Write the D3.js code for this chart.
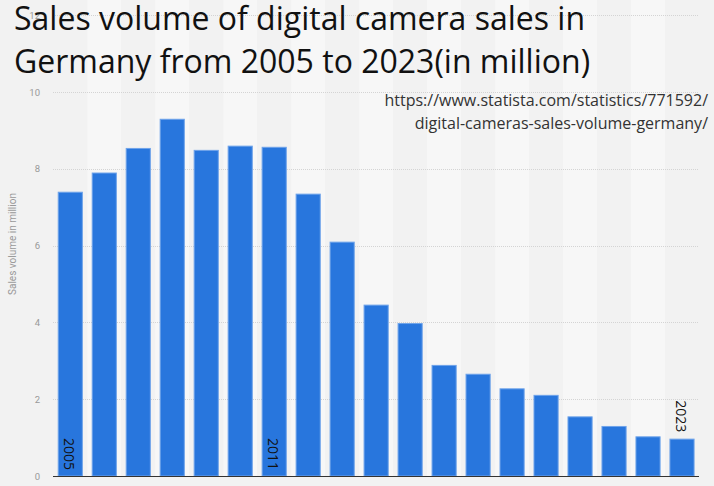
<!DOCTYPE html>
<html><head><meta charset="utf-8">
<script src="https://cdn.jsdelivr.net/npm/d3@7"></script>
<style>
html,body{margin:0;padding:0;background:#f2f2f2;}
svg{display:block;}
</style></head>
<body>
<script>
const years = ["2005","2006","2007","2008","2009","2010","2011","2012","2013","2014","2015","2016","2017","2018","2019","2020","2021","2022","2023"];
const sales = [7.39,7.89,8.53,9.29,8.48,8.59,8.56,7.34,6.09,4.45,3.97,2.88,2.65,2.27,2.10,1.54,1.29,1.02,0.96];
const yTicks = [0,2,4,6,8,10,12];
const shownYears = ["2005","2011","2023"];
const titleLines = ["Sales volume of digital camera sales in","Germany from 2005 to 2023(in million)"];
const sourceLines = ["https://www.statista.com/statistics/771592/","digital-cameras-sales-volume-germany/"];
const yTitle = "Sales volume in million";

const W=714,H=486;
const svg=d3.select("body").append("svg").attr("width",W).attr("height",H);
svg.append("rect").attr("width",W).attr("height",H).attr("fill","#f2f2f2");

const x=d3.scaleBand().domain(years).range([53.3,699]).paddingInner(0.29).paddingOuter(0.145);
const y=d3.scaleLinear().domain([0,12]).range([476,15.2]);

// alternating column bands
const step=x.step();
svg.append("g").selectAll("rect").data(years).join("rect")
  .attr("x",d=>x(d)+x.bandwidth()/2-step/2).attr("width",step)
  .attr("y",0).attr("height",y(0))
  .attr("fill",(d,i)=>i%2===1?"#f7f7f7":"#f2f2f2");

// gridlines
svg.append("g").selectAll("line").data(yTicks.filter(t=>t>0)).join("line")
  .attr("x1",53).attr("x2",699).attr("y1",d=>Math.round(y(d))+0.5).attr("y2",d=>Math.round(y(d))+0.5)
  .attr("stroke","#d4d4d4").attr("stroke-dasharray","1,1");

// y axis labels
const yAxis=d3.axisLeft(y).tickValues(yTicks).tickSize(0).tickPadding(0);
const ga=svg.append("g").attr("transform","translate(40,0)").call(yAxis);
ga.select(".domain").remove();
ga.selectAll("text").attr("fill","#999").attr("font-size","9.5px").attr("font-family","Roboto, Arial, sans-serif");

svg.append("text").attr("transform","translate(16,"+244+") rotate(-90)")
  .attr("text-anchor","middle").attr("font-size","10px").attr("fill","#999")
  .attr("font-family","Roboto, Arial, sans-serif").text(yTitle);

// bars
svg.append("g").selectAll("rect").data(years).join("rect")
  .attr("x",d=>x(d)).attr("width",x.bandwidth())
  .attr("y",(d,i)=>y(sales[i])).attr("height",(d,i)=>y(0)-y(sales[i]))
  .attr("fill","#2876dd").attr("stroke","#6ea3ea").attr("stroke-width",1);

// x axis line
svg.append("line").attr("x1",53).attr("x2",699).attr("y1",476.5).attr("y2",476.5)
  .attr("stroke","#333").attr("stroke-width",1.2);

// year labels (rotated)
svg.append("g").selectAll("text").data(shownYears).join("text")
  .attr("transform",d=>{
    const i=years.indexOf(d);
    const by=y(sales[i]);
    const top = by < 430 ? 438 : by-39;
    return "translate("+(x(d)+x.bandwidth()/2-1)+","+top+") rotate(90)";
  })
  .attr("dy","0.35em").attr("font-size","14px").attr("fill","#111")
  .attr("font-family","'Open Sans','Noto Sans',sans-serif").text(d=>d);

// title
svg.append("g").selectAll("text").data(titleLines).join("text")
  .attr("x",14).attr("y",(d,i)=>30+i*43)
  .attr("font-size","32px").attr("fill","#111")
  .attr("font-family","'Open Sans','Noto Sans',sans-serif").text(d=>d);

// source
svg.append("g").selectAll("text").data(sourceLines).join("text")
  .attr("x",708).attr("y",(d,i)=>106+i*23).attr("text-anchor","end")
  .attr("font-size","16px").attr("fill","#333")
  .attr("font-family","'Open Sans','Noto Sans',sans-serif").text(d=>d);
</script>
</body></html>
